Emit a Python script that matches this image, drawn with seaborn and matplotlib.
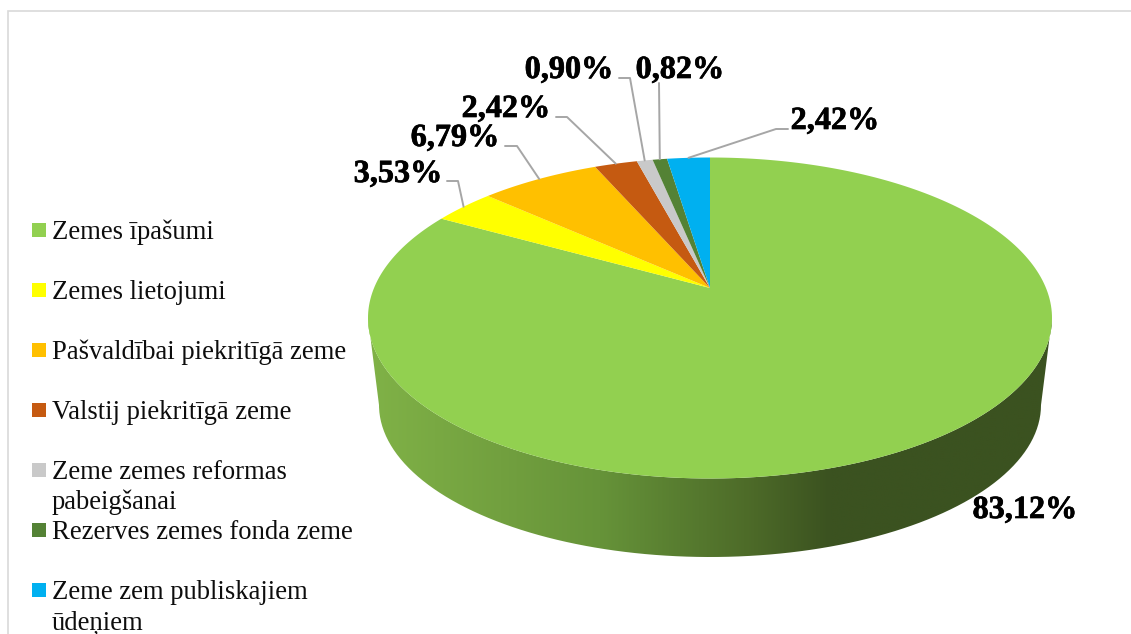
import numpy as np
import matplotlib
matplotlib.use("Agg")
import matplotlib.pyplot as plt
import matplotlib.patheffects as pe
import seaborn as sns
from matplotlib.colors import LinearSegmentedColormap
from matplotlib.patches import PathPatch
from matplotlib.path import Path
from matplotlib.transforms import Affine2D, Transform

# ---- data ----
categories = ["Zemes īpašumi", "Zemes lietojumi", "Pašvaldībai piekritīgā zeme",
              "Valstij piekritīgā zeme", "Zeme zemes reformas\npabeigšanai",
              "Rezerves zemes fonda zeme", "Zeme zem publiskajiem\nūdeņiem"]
shares = [83.12, 3.53, 6.79, 2.42, 0.90, 0.82, 2.42]
share_labels = ["83,12%", "3,53%", "6,79%", "2,42%", "0,90%", "0,82%", "2,42%"]
slice_colors = ["#92D050", "#FFFF00", "#FFC000", "#C55A11", "#C9C9C9", "#548235", "#00B0F0"]

# ---- layout (pixels) ----
W, H = 1131, 634
CX, CY, RX, RY = 710.0, 318.0, 342.0, 160.5     # top face ellipse
BX, BY, BRX, BRY = 710.0, 405.0, 331.0, 152.0   # bottom rim ellipse
APEX_SHIFT = (CY - 288.0) / RY                  # perspective shift of the pie centre
label_xy = [(1025, 518), (398, 182), (455, 146), (506, 117), (569, 78), (680, 78), (835, 129)]
elbow_xy = [None, [(447, 181), (458, 181)], [(505, 146), (517, 146)], [(556, 117), (567, 117)],
            [(619, 78), (630, 78)], [(659, 83)], [(788, 129), (776, 129)]]
legend_x, legend_first_y, legend_pitch, legend_line = 52, 239, 60, 30
wall_stops = [(368, "#80B247"), (500, "#72A03F"), (600, "#669339"), (680, "#587D30"),
              (745, "#4E6C29"), (830, "#3B5220"), (1052, "#3B5220")]


def project(pts):
    """Unit-disc perspective mapping onto the tilted top face, in pixels."""
    pts = np.asarray(pts, float)
    x, y = pts[:, 0], pts[:, 1]
    a = APEX_SHIFT
    d = 1 + a * y
    xp = x * np.sqrt(1 - a * a) / d
    yp = (y + a) / d
    return np.column_stack([CX + RX * xp, CY - RY * yp])


class PerspectiveTransform(Transform):
    input_dims = output_dims = 2
    is_separable = False
    has_inverse = False

    def transform_non_affine(self, values):
        return project(values)

    def transform_path_non_affine(self, path):
        polys = path.to_polygons(transform=Affine2D().scale(2000), closed_only=True)
        verts = np.vstack(polys) / 2000.0
        return Path(project(verts), closed=False)


sns.set_theme(style="white")
plt.rcParams["font.family"] = ["Liberation Serif", "DejaVu Serif"]
palette = sns.color_palette(slice_colors)

fig = plt.figure(figsize=(W / 100, H / 100), dpi=100, facecolor="white")
ax = fig.add_axes([0, 0, 1, 1])

wedges, _ = ax.pie(shares, colors=palette, startangle=90, counterclock=False, radius=1.0,
                   wedgeprops={"linewidth": 0, "antialiased": True, "zorder": 3})
persp = PerspectiveTransform()
for w in wedges:
    w.set_transform(persp + ax.transData)
    w.set_clip_on(False)

# side wall, a horizontal gradient clipped to the lower rim band
t = np.linspace(np.pi, 2 * np.pi, 200)
top_rim = np.column_stack([CX + RX * np.cos(t), CY - RY * np.sin(t)])
bot_rim = np.column_stack([BX + BRX * np.cos(t), BY - BRY * np.sin(t)])
wall = np.vstack([top_rim, bot_rim[::-1], top_rim[:1]])
xmin, xmax = wall_stops[0][0], wall_stops[-1][0]
cmap = LinearSegmentedColormap.from_list(
    "wall", [((x - xmin) / (xmax - xmin), c) for x, c in wall_stops], N=512)
im = ax.imshow(np.linspace(0, 1, 700)[None, :], cmap=cmap, aspect="auto", zorder=2,
               extent=(xmin, xmax, 570, 300), interpolation="bilinear")
wall_patch = PathPatch(Path(wall), transform=ax.transData, facecolor="none", edgecolor="none")
ax.add_patch(wall_patch)
im.set_clip_path(wall_patch)

ax.set_aspect("auto")
ax.set_xlim(0, W)
ax.set_ylim(H, 0)
ax.axis("off")

# frame
ax.plot([8, 8, W], [H, 11, 11], color="#D9D9D9", lw=1.2, zorder=1, solid_joinstyle="miter")

# value labels and leader lines
heavy = [pe.withStroke(linewidth=0.5, foreground="black")]
cum = np.cumsum([0] + shares)
mids = (cum[:-1] + cum[1:]) / 2 / sum(shares) * 2 * np.pi
for i, (lab, xy) in enumerate(zip(share_labels, label_xy)):
    ax.text(xy[0], xy[1], lab, ha="center", va="baseline", fontsize=23.2,
            fontweight="bold", color="black", zorder=5, path_effects=heavy)
    if elbow_xy[i] is not None:
        end = project([[np.sin(mids[i]), np.cos(mids[i])]])[0]
        pts = np.array(elbow_xy[i] + [tuple(end)])
        ax.plot(pts[:, 0], pts[:, 1], color="#A6A6A6", lw=1.4, zorder=4)

# legend
for i, (name, col) in enumerate(zip(categories, palette)):
    base = legend_first_y + i * legend_pitch
    ax.scatter([39], [base - 9], marker="s", s=102, color=[col], linewidths=0, zorder=5)
    for j, line in enumerate(name.split("\n")):
        ax.text(legend_x, base + j * legend_line, line, ha="left", va="baseline",
                fontsize=19.15, color="#0D0D0D", zorder=5)

fig.savefig("out.png", dpi=100, facecolor="white")
